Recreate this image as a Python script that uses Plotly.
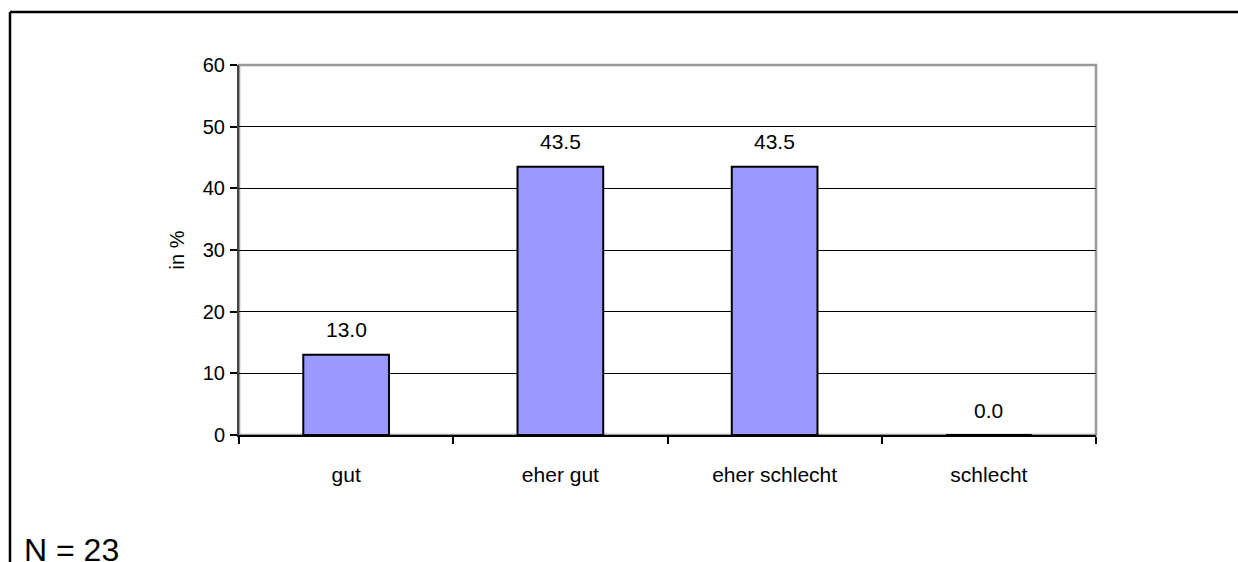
import plotly.graph_objects as go

categories = ["gut", "eher gut", "eher schlecht", "schlecht"]
values = [13.0, 43.5, 43.5, 0.0]
y_ticks = [0, 10, 20, 30, 40, 50, 60]
y_title = "in %"
footnote = "N = 23"

W, H = 1238, 562
L, R, T, B = 239, 1238 - 1096, 65, 562 - 435
PW, PH = W - L - R, H - T - B
FONT = "Liberation Sans, Arial, sans-serif"


def px_x(p):
    return (p - L) / PW


def px_y(p):
    return (H - B - p) / PH


fig = go.Figure()
fig.add_trace(go.Bar(
    x=categories, y=values, width=0.4,
    marker=dict(color="#9999FF", line=dict(color="black", width=2)),
    hoverinfo="x+y",
))

for c, v in zip(categories, values):
    fig.add_annotation(x=c, y=v, text=f"{v:.1f}", showarrow=False,
                       yshift=25, yanchor="middle",
                       font=dict(family=FONT, size=21, color="black"))

fig.add_annotation(xref="paper", yref="paper", x=px_x(22), y=px_y(550),
                   xanchor="left", yanchor="middle", text=footnote,
                   showarrow=False, font=dict(family=FONT, size=32, color="black"))

# plot area border (top/right gray)
fig.add_shape(type="rect", xref="x domain", yref="y domain", x0=0, x1=1, y0=0, y1=1,
              line=dict(color="#999999", width=2.5), layer="below")
# outer frame (top and left visible)
fig.add_shape(type="line", xref="paper", yref="paper", x0=px_x(10), x1=px_x(1300),
              y0=px_y(12), y1=px_y(12), line=dict(color="black", width=2.5))
fig.add_shape(type="line", xref="paper", yref="paper", x0=px_x(10), x1=px_x(10),
              y0=px_y(12), y1=px_y(620), line=dict(color="black", width=2.5))

fig.update_layout(
    width=W, height=H,
    margin=dict(l=L, r=R, t=T, b=B),
    paper_bgcolor="white", plot_bgcolor="white",
    showlegend=False, bargap=0.6,
    font=dict(family=FONT, size=20, color="black"),
    xaxis=dict(type="category", tickson="boundaries", ticks="outside", ticklen=7,
               tickcolor="black", tickwidth=1.5, showgrid=False, showline=True,
               linecolor="black", linewidth=2, ticklabelstandoff=20,
               tickfont=dict(size=21), range=[-0.5, 3.5]),
    yaxis=dict(range=[0, 60], tickvals=y_ticks, ticks="outside", ticklen=7,
               tickcolor="black", tickwidth=1.5, showgrid=True, gridcolor="black",
               gridwidth=1, showline=True, linecolor="#444444", linewidth=2,
               zeroline=False, ticklabelstandoff=1, tickfont=dict(size=20),
               title=dict(text=y_title, font=dict(size=20), standoff=13)),
)

fig.write_html("out.html")
